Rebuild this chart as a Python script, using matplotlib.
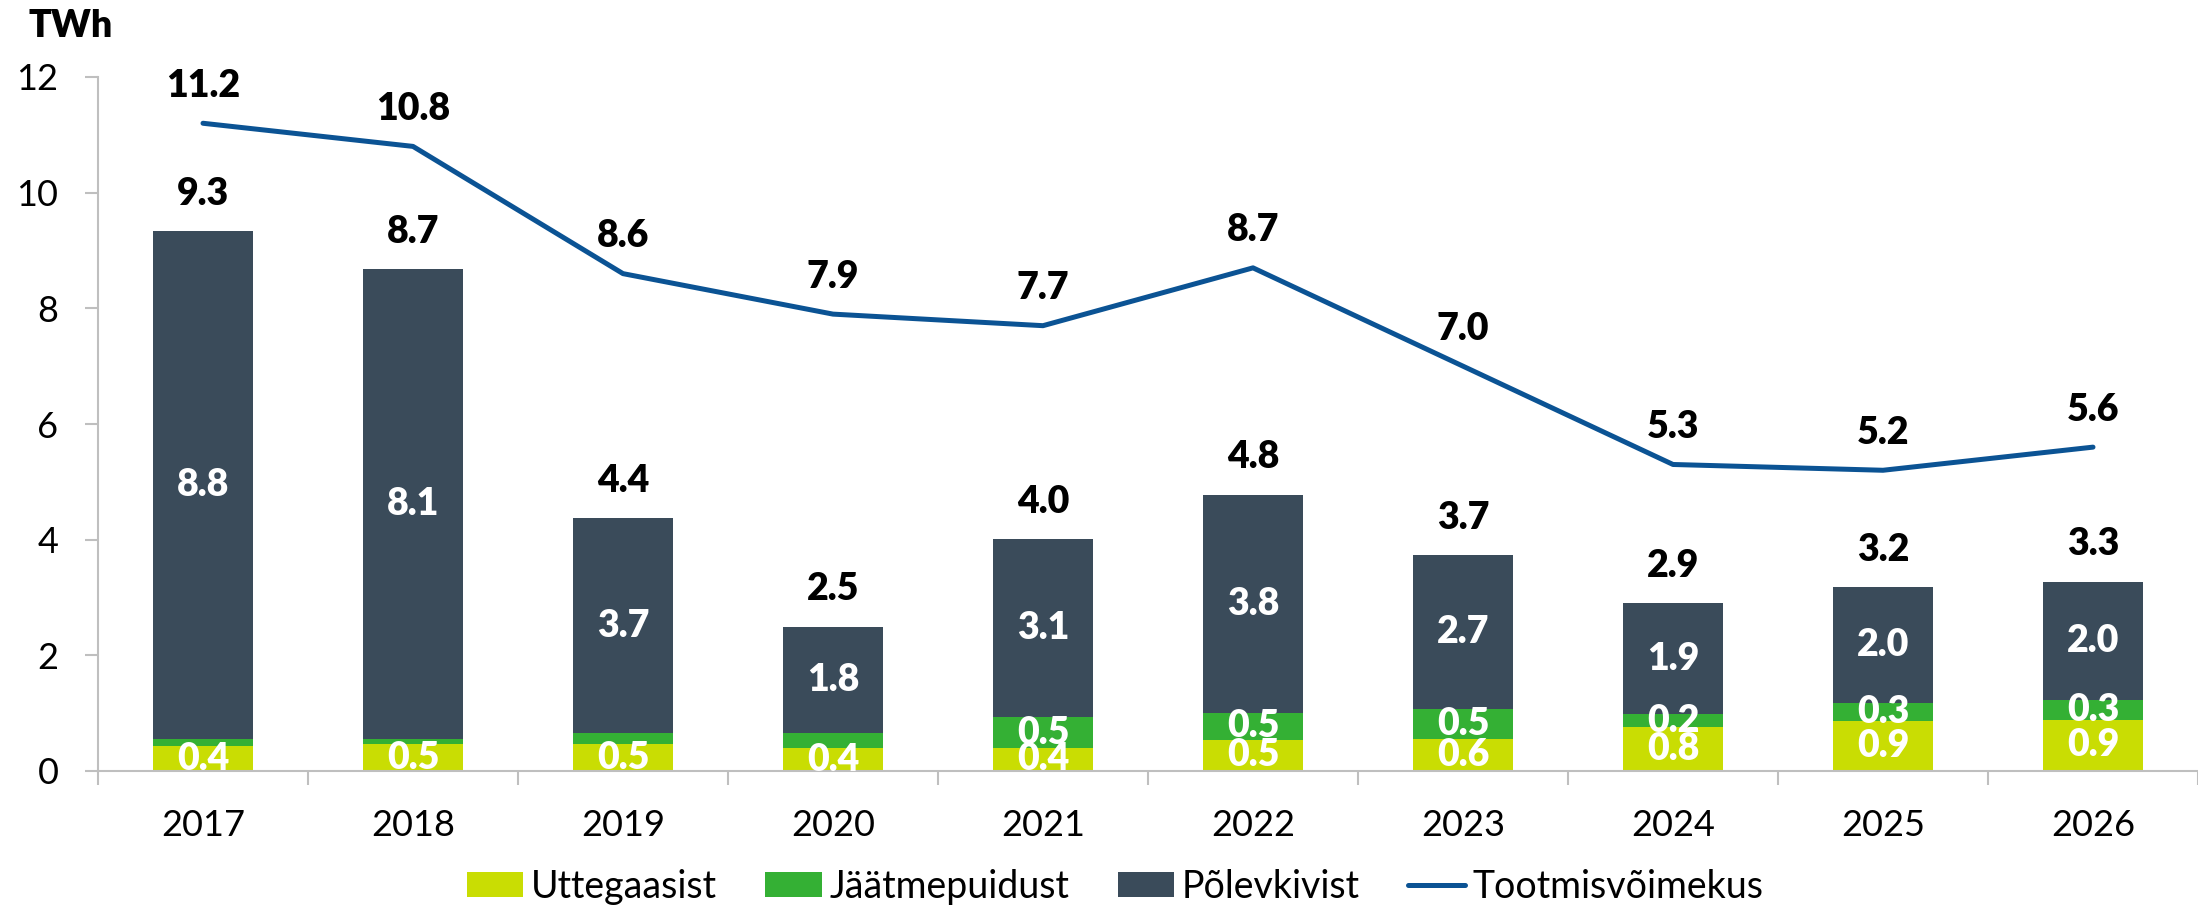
# -*- coding: utf-8 -*-
# Electricity generation by fuel vs production capacity, 2017-2026

import numpy as np
import matplotlib
matplotlib.use('Agg')
import matplotlib.pyplot as plt

plt.rcParams['font.family'] = ['Lato', 'DejaVu Sans']

# Data (TWh)
years = ['2017', '2018', '2019', '2020', '2021', '2022', '2023', '2024', '2025', '2026']
uttegaas = [0.43, 0.46, 0.46, 0.39, 0.40, 0.54, 0.56, 0.76, 0.86, 0.89]
jaatmepuit = [0.12, 0.10, 0.20, 0.27, 0.53, 0.46, 0.51, 0.22, 0.32, 0.34]
polevkivi = [8.78, 8.12, 3.71, 1.83, 3.08, 3.78, 2.66, 1.92, 2.00, 2.04]
voimekus = [11.2, 10.8, 8.6, 7.9, 7.7, 8.7, 7.0, 5.3, 5.2, 5.6]
# which green labels are shown
show_green = [False, False, False, False, True, True, True, True, True, True]

c_yellow = '#C9DD03'
c_green = '#34B034'
c_dark = '#3A4B5A'
c_line = '#0B5394'
c_axis = '#BFBFBF'

W, H = 2198, 909
fig = plt.figure(figsize=(W / 100, H / 100), dpi=100)
ax = fig.add_axes([98 / W, (H - 771) / H, 2100 / W, (771 - 77) / H])

x = np.arange(len(years))
u = np.array(uttegaas)
j = np.array(jaatmepuit)
p = np.array(polevkivi)
bw = 0.476

b1 = ax.bar(x, u, bw, color=c_yellow, label='Uttegaasist', zorder=2)
b2 = ax.bar(x, j, bw, bottom=u, color=c_green, label='Jäätmepuidust', zorder=2)
b3 = ax.bar(x, p, bw, bottom=u + j, color=c_dark, label='Põlevkivist', zorder=2)
ln, = ax.plot(x, voimekus, color=c_line, lw=3.6, solid_capstyle='round',
              label='Tootmisvõimekus', zorder=3)

lbl_size = 27
fw = 'heavy'
for i in range(len(years)):
    ax.text(x[i], u[i] / 2, '%.1f' % u[i], ha='center', va='center', color='white',
            fontsize=lbl_size, fontweight=fw, clip_on=True, zorder=4)
    if show_green[i]:
        ax.text(x[i], u[i] + j[i] / 2, '%.1f' % j[i], ha='center', va='center',
                color='white', fontsize=lbl_size, fontweight=fw, zorder=4)
    ax.text(x[i], u[i] + j[i] + p[i] / 2, '%.1f' % p[i], ha='center', va='center',
            color='white', fontsize=lbl_size, fontweight=fw, zorder=4)
    tot = u[i] + j[i] + p[i]
    ax.annotate('%.1f' % tot, (x[i], tot), xytext=(0, 27), textcoords='offset points',
                ha='center', va='center', fontsize=lbl_size, fontweight=fw)
    ax.annotate('%.1f' % voimekus[i], (x[i], voimekus[i]), xytext=(0, 27),
                textcoords='offset points', ha='center', va='center',
                fontsize=lbl_size, fontweight=fw)

ax.set_xlim(-0.5, len(years) - 0.5)
ax.set_ylim(0, 12)
ax.set_yticks([0, 2, 4, 6, 8, 10, 12])
ax.set_xticks(x)
ax.set_xticklabels(years)
ax.set_xticks(np.arange(-0.5, len(years)), minor=True)
ax.tick_params(axis='x', which='major', length=0, pad=27, labelsize=26)
ax.tick_params(axis='x', which='minor', length=10, width=1.5, color=c_axis)
ax.tick_params(axis='y', length=9.5, width=1.5, color=c_axis, pad=19, labelsize=26)

for s in ['top', 'right']:
    ax.spines[s].set_visible(False)
for s in ['left', 'bottom']:
    ax.spines[s].set_color(c_axis)
    ax.spines[s].set_linewidth(1.5)

fig.text(71 / W, 1 - 26 / H, 'TWh', ha='center', va='center', fontsize=27, fontweight=fw)

fig.legend(handles=[b1, b2, b3, ln], loc='center', bbox_to_anchor=(1115 / W, 1 - 887 / H),
           ncol=4, frameon=False, fontsize=27, handlelength=1.5, handleheight=0.65,
           handletextpad=0.2, columnspacing=1.3)

fig.savefig('out.png', dpi=100)
